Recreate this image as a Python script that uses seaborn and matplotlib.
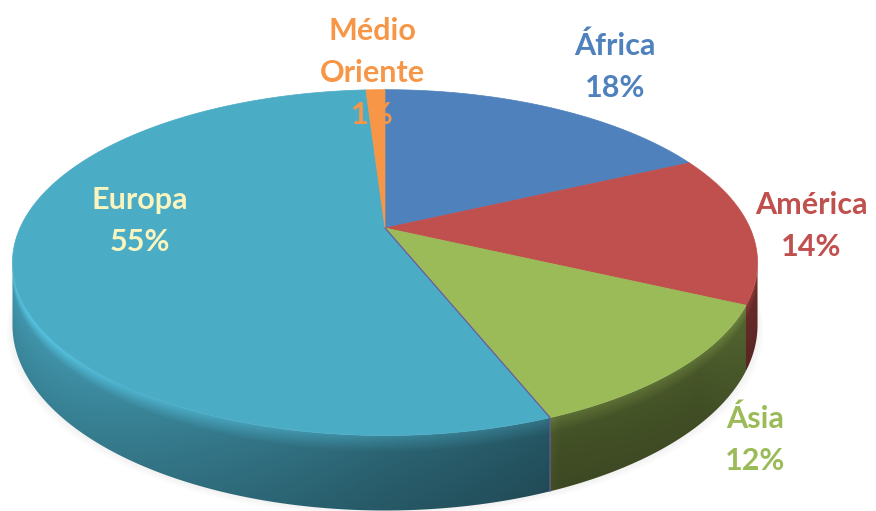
import numpy as np
import matplotlib
matplotlib.use("Agg")
import matplotlib.pyplot as plt
from matplotlib.patches import Polygon
import seaborn as sns

# ---- data ----
regions = ["África", "América", "Ásia", "Europa", "Médio\nOriente"]
shares = [18, 14, 12, 55, 1]
slice_colors = ["#4F81BD", "#C0504D", "#9BBB59", "#4BACC6", "#F79646"]
label_colors = ["#4F81BD", "#C0504D", "#9BBB59", "#FAF5BE", "#F79646"]

# ---- layout (pixel space) ----
label_pos = {
    "África": (615, 67),
    "América": (811, 226),
    "Ásia": (755, 440),
    "Europa": (140, 221),
    "Médio\nOriente": (372, 73),
}
X0, Y0, R, K, P, D = 385, 228, 365, 166, 0.20, 60

sns.set_theme(style="white")
plt.rcParams['font.family'] = ['Lato', 'DejaVu Sans']
palette = sns.color_palette(slice_colors)

fig = plt.figure(figsize=(8.76, 5.11), dpi=100)
ax = fig.add_axes([0, 0, 1, 1])


def proj(theta, z=0.0):
    u, v = np.sin(theta), np.cos(theta)
    s = 1.0 / (1.0 + P * v)
    return X0 + R * u * s, Y0 - K * v * s + D * (-z) * s


total = float(sum(shares))
bounds = np.cumsum([0] + shares) / total * 2 * np.pi

# soft shadow under the pie
tt = np.linspace(0, 2 * np.pi, 240)
for i in range(3):
    xs, ys = proj(tt, -1.0)
    grow = 1 + 0.005 * (i + 1)
    ax.fill(X0 + (xs - X0) * grow, ys + 2 + 2 * i, color="gray", alpha=0.03, lw=0)

# ---- visible side as a shaded image clipped to the side outline ----
t_sil = np.arccos(-P)
th_side = np.linspace(t_sil, 2 * np.pi - t_sil, 600)
xt, yt = proj(th_side, 0.0)
xb, yb = proj(th_side, -1.0)

H0 = 200
gx = np.arange(0, 876) + 0.5
gy = np.arange(H0, 511) + 0.5
order = np.argsort(xt)
theta_x = np.interp(gx, xt[order], th_side[order])
ytop_x = np.interp(gx, xt[order], yt[order])
ybot_x = np.interp(gx, xt[order], yb[order])

idx = np.clip(np.searchsorted(bounds, theta_x, side="right") - 1, 0, len(shares) - 1)
base = np.array([palette[i] for i in idx])
shade_xp = [0, 60, 200, 385, 545, 560, 700, 760]
shade_fp = [0.88, 0.84, 0.72, 0.58, 0.50, 0.44, 0.46, 0.55]
fx = np.interp(gx, shade_xp, shade_fp)
tnorm = (gy[:, None] - ytop_x[None, :]) / np.maximum(ybot_x - ytop_x, 1)[None, :]
band = np.interp(tnorm, [0, 0.08, 0.22, 0.5, 1.0], [1.35, 1.22, 1.0, 0.95, 0.88])
img = np.clip(base[None, :, :] * (fx[None, :] * band)[:, :, None], 0, 1)

side_pts = list(zip(xt, yt)) + list(zip(xb[::-1], yb[::-1]))
clip = Polygon(side_pts, closed=True, transform=ax.transData)
im = ax.imshow(img, extent=(0, 876, 511, H0), origin="upper",
               aspect="auto", interpolation="bilinear", zorder=1)
im.set_clip_path(clip)

# top faces
for k in range(len(shares)):
    a0, a1 = bounds[k], bounds[k + 1]
    th = np.linspace(a0, a1, max(3, int(np.degrees(a1 - a0)) * 2))
    xs, ys = proj(th)
    pts = [(X0, Y0)] + list(zip(xs, ys))
    ax.add_patch(Polygon(pts, closed=True, facecolor=palette[k],
                         edgecolor=palette[k], lw=0.5, zorder=2))

# thin separation line between Europa and Ásia
xe, ye = proj(bounds[3])
xe2, ye2 = proj(bounds[3], -1.0)
ax.plot([X0, xe, xe2], [Y0, ye, ye2], color="#6E5A9A", lw=0.9, zorder=3)

# labels
for name, val, col in zip(regions, shares, label_colors):
    x, y = label_pos[name]
    ax.text(x, y, f"{name}\n{val}%", ha="center", va="center", color=col,
            fontsize=22, fontweight="bold", linespacing=1.62, zorder=4)

ax.set_xlim(0, 876)
ax.set_ylim(511, 0)
ax.axis("off")
fig.savefig("out.png", dpi=100)
